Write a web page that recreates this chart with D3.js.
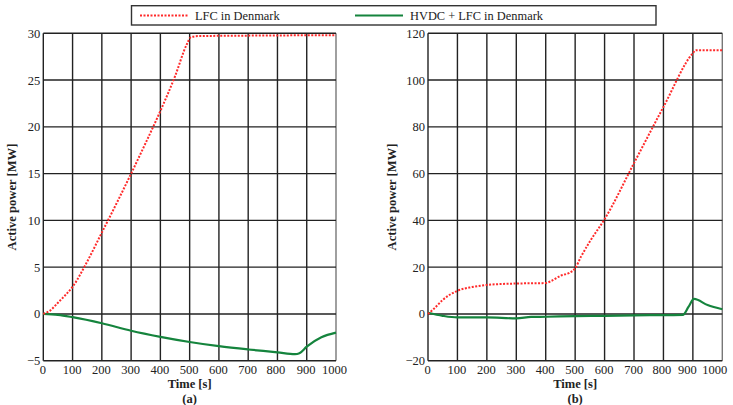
<!DOCTYPE html>
<html>
<head>
<meta charset="utf-8">
<script src="https://cdn.jsdelivr.net/npm/d3@7"></script>
<style>
  body { margin: 0; background: #fff; }
  text { font-family: 'Liberation Serif'; fill: #222; }
</style>
</head>
<body>
<div id="chart"></div>
<script>
// data
const timeTicks = [0, 100, 200, 300, 400, 500, 600, 700, 800, 900, 1000];
const ticksA = [-5, 0, 5, 10, 15, 20, 25, 30];
const ticksB = [-20, 0, 20, 40, 60, 80, 100, 120];

const lfcA = [[0, 0], [25, 0.4], [50, 1.2], [75, 2], [100, 2.9], [150, 5.6], [200, 8.7], [250, 11.8],
  [300, 15], [350, 18.3], [400, 21.7], [450, 25.4], [490, 28.8], [505, 29.6], [530, 29.7],
  [700, 29.75], [1000, 29.8]];
const hvdcA = [[0, 0], [50, -0.1], [100, -0.35], [200, -1.0], [300, -1.8], [400, -2.45], [500, -3.0],
  [600, -3.45], [700, -3.8], [800, -4.1], [860, -4.3], [875, -4.2], [900, -3.5], [950, -2.5],
  [1000, -2.0]];

const lfcB = [[0, 0], [20, 2.2], [50, 6], [100, 9.9], [150, 11.5], [200, 12.4], [300, 13], [400, 13.2],
  [420, 14.2], [450, 16.3], [480, 17.6], [500, 19.5], [520, 24.5], [550, 31], [600, 40.5],
  [700, 64.5], [800, 88.5], [900, 111.5], [910, 112.8], [1000, 112.8]];
const hvdcB = [[0, 0.5], [50, -0.8], [100, -1.5], [200, -1.5], [300, -1.9], [350, -1.3], [400, -1.2],
  [500, -0.9], [600, -0.8], [700, -0.6], [800, -0.5], [866, -0.4], [885, 3], [904, 6.4],
  [950, 3.8], [1000, 2.0]];

const series = ["LFC in Denmark", "HVDC + LFC in Denmark"];
const colors = ["#ff2a2a", "#15843d"];

const width = 733, height = 405;
const svg = d3.select("#chart").append("svg")
  .attr("width", width).attr("height", height)
  .attr("font-family", "'Liberation Serif'");

const plotTop = 33.3, plotBottom = 360.7;
const serif = "'Liberation Serif'";

// tickShift: horizontal nudges of the x tick labels, as in the picture
const drawPanel = (left, right, yDomain, yTicks, lfc, hvdc, tag, labelOffset, tickShift) => {
  const x = d3.scaleLinear().domain([0, 1000]).range([left, right]);
  const y = d3.scaleLinear().domain(yDomain).range([plotBottom, plotTop]);
  const g = svg.append("g");

  // grid
  g.append("g").selectAll("line").data(timeTicks).enter().append("line")
    .attr("x1", d => x(d)).attr("x2", d => x(d))
    .attr("y1", plotTop).attr("y2", plotBottom)
    .attr("stroke", d => d === 1000 ? "#777" : "#222").attr("stroke-width", 1.4);
  g.append("g").selectAll("line").data(yTicks).enter().append("line")
    .attr("x1", left).attr("x2", right)
    .attr("y1", d => y(d)).attr("y2", d => y(d))
    .attr("stroke", "#222").attr("stroke-width", 1.4);

  // tick labels
  const xAxis = d3.axisBottom(x).tickValues(timeTicks).tickSize(0).tickPadding(4)
    .tickFormat(d3.format("d"));
  g.append("g").attr("transform", `translate(0,${plotBottom})`).call(xAxis)
    .attr("font-family", serif)
    .call(a => a.select(".domain").remove())
    .selectAll("text").style("font-family", serif).style("font-size", "12.5px").attr("fill", "#222")
    .attr("dx", d => tickShift[d] !== undefined ? tickShift[d] : -1);
  const yAxis = d3.axisLeft(y).tickValues(yTicks).tickSize(0).tickPadding(3);
  g.append("g").attr("transform", `translate(${left},0)`).call(yAxis)
    .attr("font-family", serif)
    .call(a => a.select(".domain").remove())
    .selectAll("text").style("font-family", serif).style("font-size", "12.5px").attr("fill", "#222");

  const line = d3.line().x(d => x(d[0])).y(d => y(d[1])).curve(d3.curveMonotoneX);
  g.append("path").datum(hvdc).attr("d", line)
    .attr("fill", "none").attr("stroke", colors[1]).attr("stroke-width", 2.2);
  g.append("path").datum(lfc).attr("d", line)
    .attr("fill", "none").attr("stroke", colors[0]).attr("stroke-width", 2)
    .attr("stroke-dasharray", "2,1.5");

  const cx = (left + right) / 2;
  g.append("text").attr("x", cx).attr("y", 388).attr("text-anchor", "middle")
    .style("font-family", serif).style("font-size", "12.5px").style("font-weight", "bold").text("Time [s]");
  g.append("text").attr("x", cx).attr("y", 403).attr("text-anchor", "middle")
    .style("font-family", serif).style("font-size", "12.5px").style("font-weight", "bold").text(tag);
  g.append("text")
    .attr("transform", `translate(${left - labelOffset},${(plotTop + plotBottom) / 2}) rotate(-90)`)
    .attr("text-anchor", "middle")
    .style("font-family", serif).style("font-size", "12.6px").style("font-weight", "bold")
    .text("Active power [MW]");
};

drawPanel(43.3, 336, [-5, 30], ticksA, lfcA, hvdcA, "(a)", 27, {800: -2, 1000: -2});
drawPanel(428, 722.3, [-20, 120], ticksB, lfcB, hvdcB, "(b)", 32, {800: -2, 900: -6, 1000: -8});

// legend
const legend = svg.append("g");
legend.append("rect").attr("x", 131.5).attr("y", 5.7).attr("width", 524.5).attr("height", 19.3)
  .attr("fill", "#fff").attr("stroke", "#333").attr("stroke-width", 1.4);
const legendX = [[140, 189, 195], [355, 403, 410]];
series.forEach((s, i) => {
  legend.append("line").attr("x1", legendX[i][0]).attr("x2", legendX[i][1])
    .attr("y1", 15.5).attr("y2", 15.5)
    .attr("stroke", colors[i]).attr("stroke-width", 2.2)
    .attr("stroke-dasharray", i === 0 ? "2,1.5" : null);
  legend.append("text").attr("x", legendX[i][2]).attr("y", 20)
    .style("font-family", serif).style("font-size", "12.4px").text(s);
});
</script>
</body>
</html>
